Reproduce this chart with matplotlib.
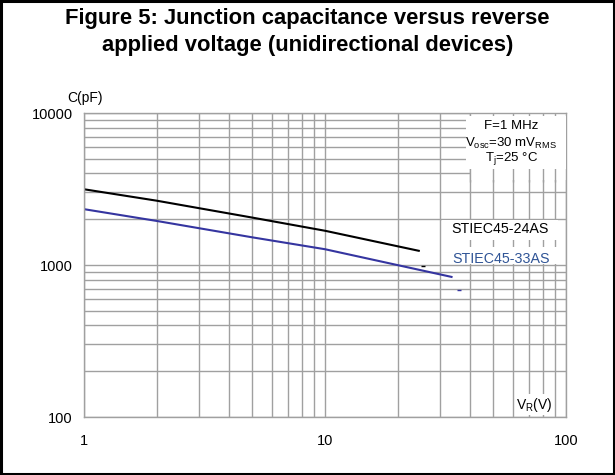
import matplotlib
matplotlib.use("Agg")
import matplotlib.pyplot as plt
from matplotlib.patches import Rectangle

plt.rcParams['font.family'] = ['Liberation Sans', 'DejaVu Sans']

# Data
v_24as = [1, 2, 5, 10, 24.5]
c_24as = [3150, 2650, 2050, 1680, 1240]
v_33as = [1, 2, 5, 10, 33.5]
c_33as = [2330, 1950, 1520, 1270, 835]
series_names = ["STIEC45-24AS", "STIEC45-33AS"]
x_ticks = [1, 10, 100]
x_tick_labels = ["1", "10", "100"]
y_ticks = [100, 1000, 10000]
y_tick_labels = ["100", "1000", "10000"]

fig = plt.figure(figsize=(6.15, 4.75), dpi=100)
fig.patches.append(Rectangle((0.002, 0.003), 0.996, 0.994, transform=fig.transFigure,
                             fill=False, edgecolor='black', linewidth=2.2))

fig.text(0.5, 0.962, "Figure 5: Junction capacitance versus reverse",
         ha='center', va='center', fontsize=15.8, fontweight='bold')
fig.text(0.5, 0.905, "applied voltage (unidirectional devices)",
         ha='center', va='center', fontsize=15.8, fontweight='bold')

ax = fig.add_axes([0.1366, 0.1221, 0.7837, 0.6400])
ax.set_xscale('log')
ax.set_yscale('log')
ax.set_xlim(1, 100)
ax.set_ylim(100, 10000)

gcol = '#a0a0a0'
ax.grid(True, which='both', color=gcol, linewidth=1.0)
ax.set_axisbelow(True)
for s in ax.spines.values():
    s.set_color(gcol)
    s.set_linewidth(1.0)

ax.set_xticks(x_ticks)
ax.set_xticklabels(x_tick_labels)
ax.set_yticks(y_ticks)
ax.set_yticklabels(y_tick_labels)
ax.tick_params(which='both', length=0, labelsize=10.5)
ax.tick_params(axis='x', pad=12)
ax.tick_params(axis='y', pad=8)

# white region hiding horizontal grid behind the conditions box
ax.add_patch(Rectangle((40, 3600), 60, 6400, facecolor='white', edgecolor='none', zorder=0.6))
ax.vlines([40, 50, 60, 70, 80, 90], 3500, 10000, color=gcol, linewidth=1.0, zorder=0.7)
# conditions text box
ax.add_patch(Rectangle((38.5, 4300), 61.5, 5250, facecolor='white', edgecolor='none', zorder=3))
# label boxes
ax.add_patch(Rectangle((30.5, 1460), 62, 525, facecolor='white', edgecolor='none', zorder=3))
ax.add_patch(Rectangle((30.5, 1015), 62, 295, facecolor='white', edgecolor='none', zorder=3))

ax.plot(v_24as, c_24as, color='black', linewidth=1.5, zorder=2.5)
ax.plot(v_33as, c_33as, color='#3535a0', linewidth=1.5, zorder=2.5)
ax.plot([25.5], [985], marker='_', color='black', markersize=3, zorder=2.5)
ax.plot([36], [680], marker='_', color='#3535a0', markersize=3, zorder=2.5)

ax.text(0.886, 0.958, "F=1 MHz", transform=ax.transAxes, ha='center', va='center',
        fontsize=9.5, zorder=4)
ax.text(0.886, 0.9, r"V$_{\mathregular{osc}}$=30 mV$_{\mathregular{RMS}}$", transform=ax.transAxes,
        ha='center', va='center', fontsize=9.5, zorder=4)
ax.text(0.886, 0.85, r"T$_{\mathregular{j}}$=25 °C", transform=ax.transAxes,
        ha='center', va='center', fontsize=9.5, zorder=4)

ax.text(0.762, 0.62, series_names[0], transform=ax.transAxes, ha='left', va='center',
        fontsize=10.3, color='black', zorder=4)
ax.text(0.764, 0.52, series_names[1], transform=ax.transAxes, ha='left', va='center',
        fontsize=10.3, color='#2f5496', zorder=4)

ax.text(0.935, 0.04, r"V$_{\mathregular{R}}$(V)", transform=ax.transAxes, ha='center', va='center',
        fontsize=10, bbox=dict(facecolor='white', edgecolor='none', pad=1), zorder=4)
fig.text(0.138, 0.793, "C(pF)", ha='center', va='center', fontsize=10)

fig.savefig("out.png", dpi=100)
